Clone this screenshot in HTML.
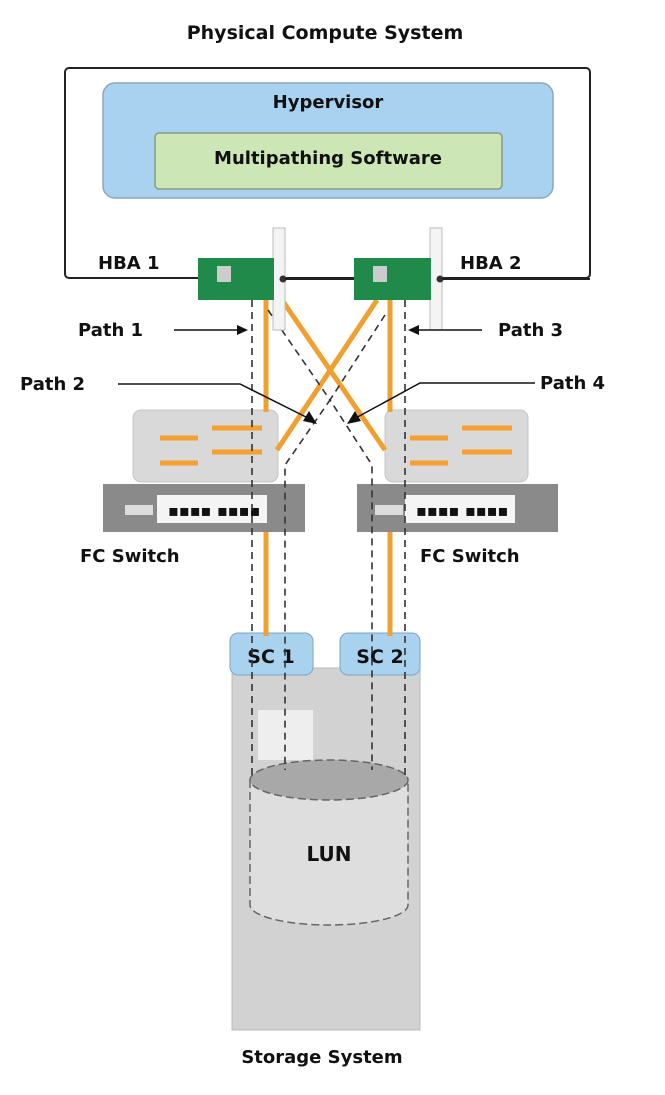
<!DOCTYPE html>
<html><head><meta charset="utf-8"><style>
html,body{margin:0;padding:0;background:#fff;}
svg{display:block;}
text{font-family:"DejaVu Sans","Liberation Sans",sans-serif;font-weight:bold;fill:#111;}
</style></head><body>
<svg width="665" height="1095" viewBox="0 0 665 1095">
<text x="325" y="39" font-size="19" text-anchor="middle">Physical Compute System</text>
<rect x="65" y="68" width="525" height="210" rx="4" fill="#fff" stroke="#222" stroke-width="2"/>
<rect x="103" y="83" width="450" height="115" rx="12" fill="#a8d2f0" stroke="#8aa7bd" stroke-width="1.5"/>
<text x="328" y="108" font-size="18" text-anchor="middle" fill="#0d2238">Hypervisor</text>
<rect x="155" y="133" width="347" height="56" rx="4" fill="#cce6b5" stroke="#8a9b80" stroke-width="1.5"/>
<text x="328" y="164" font-size="18" text-anchor="middle" fill="#102010">Multipathing Software</text>
<text x="98" y="269" font-size="18">HBA 1</text>
<text x="460" y="269" font-size="18">HBA 2</text>

<!-- switches -->
<g>
<rect x="133" y="410" width="145" height="72" rx="8" fill="#d9d9d9" stroke="#c4c4c4"/>
<g stroke="#f5a030" stroke-width="5" fill="#f5a030">
<line x1="160" y1="438" x2="198" y2="438"/><line x1="160" y1="463" x2="198" y2="463"/>
<line x1="212" y1="428" x2="262" y2="428"/><line x1="212" y1="452" x2="262" y2="452"/></g>
<rect x="103" y="484" width="202" height="48" fill="#8a8a8a"/>
<rect x="157" y="495" width="110" height="28" fill="#f4f4f4"/>
<text x="168" y="516" font-size="16" fill="#222">▪▪▪▪ ▪▪▪▪</text>
<rect x="125" y="505" width="28" height="10" fill="#ddd"/>
</g>
<g>
<rect x="385" y="410" width="143" height="72" rx="8" fill="#d9d9d9" stroke="#c4c4c4"/>
<g stroke="#f5a030" stroke-width="5">
<line x1="410" y1="438" x2="448" y2="438"/><line x1="410" y1="463" x2="448" y2="463"/>
<line x1="462" y1="428" x2="512" y2="428"/><line x1="462" y1="452" x2="512" y2="452"/></g>
<rect x="357" y="484" width="201" height="48" fill="#8a8a8a"/>
<rect x="405" y="495" width="110" height="28" fill="#f4f4f4"/>
<text x="416" y="516" font-size="16" fill="#222">▪▪▪▪ ▪▪▪▪</text>
<rect x="375" y="505" width="28" height="10" fill="#ddd"/>
</g>
<text x="80" y="562" font-size="18">FC Switch</text>
<text x="420" y="562" font-size="18">FC Switch</text>

<!-- storage -->
<rect x="232" y="668" width="188" height="362" fill="#d2d2d2" stroke="#bbb"/>
<rect x="258" y="710" width="55" height="50" fill="#eeeeee"/>
<g>
<path d="M250 780 L250 905 A79 20 0 0 0 408 905 L408 780" fill="#dedede" stroke="#666" stroke-dasharray="8 4" stroke-width="1.5"/>
<ellipse cx="329" cy="780" rx="79" ry="20" fill="#a8a8a8" stroke="#666" stroke-dasharray="8 4" stroke-width="1.5"/>
<text x="329" y="861" font-size="20" text-anchor="middle">LUN</text>
</g>
<rect x="230" y="633" width="83" height="42" rx="8" fill="#a9d2ef" stroke="#7aa6c4"/>
<text x="271" y="663" font-size="19" text-anchor="middle">SC 1</text>
<rect x="340" y="633" width="80" height="42" rx="8" fill="#a9d2ef" stroke="#7aa6c4"/>
<text x="380" y="663" font-size="19" text-anchor="middle">SC 2</text>
<text x="322" y="1063" font-size="18" text-anchor="middle">Storage System</text>

<!-- orange cables -->
<g stroke="#f0a030" stroke-width="5" fill="none">
<line x1="266" y1="300" x2="266" y2="412"/>
<line x1="390" y1="300" x2="390" y2="412"/>
<line x1="282" y1="300" x2="385" y2="450"/>
<line x1="377" y1="300" x2="277" y2="450"/>
<line x1="266" y1="532" x2="266" y2="636"/>
<line x1="390" y1="532" x2="390" y2="636"/>
</g>
<!-- dashed paths -->
<g stroke="#333" stroke-width="1.6" stroke-dasharray="7 5" fill="none">
<line x1="252" y1="300" x2="252" y2="780"/>
<polyline points="268,310 330,400 285,465 285,770"/>
<line x1="405" y1="300" x2="405" y2="780"/>
<polyline points="385,315 330,400 372,465 372,770"/>
</g>

<!-- HBA cards -->
<g>
<rect x="273" y="228" width="12" height="102" fill="#f4f4f4" stroke="#bbb"/>
<rect x="198" y="258" width="76" height="42" fill="#1f8a4a"/>
<rect x="217" y="266" width="14" height="16" fill="#ccc"/>
<circle cx="283" cy="279" r="3.5" fill="#333"/>
</g>
<g>
<rect x="430" y="228" width="12" height="102" fill="#f4f4f4" stroke="#bbb"/>
<rect x="354" y="258" width="77" height="42" fill="#1f8a4a"/>
<rect x="373" y="266" width="14" height="16" fill="#ccc"/>
<circle cx="440" cy="279" r="3.5" fill="#333"/>
</g>
<line x1="285" y1="279" x2="354" y2="279" stroke="#222" stroke-width="2"/>
<line x1="442" y1="279" x2="590" y2="279" stroke="#222" stroke-width="2"/>

<!-- path labels -->
<text x="78" y="336" font-size="18">Path 1</text>
<line x1="174" y1="330" x2="240" y2="330" stroke="#111" stroke-width="1.5"/>
<polygon points="248,330 237,325 237,335" fill="#111"/>
<text x="498" y="336" font-size="18">Path 3</text>
<line x1="482" y1="330" x2="418" y2="330" stroke="#111" stroke-width="1.5"/>
<polygon points="408,330 419,325 419,335" fill="#111"/>
<text x="20" y="390" font-size="18">Path 2</text>
<polyline points="118,384 240,384 312,420" fill="none" stroke="#111" stroke-width="1.5"/>
<polygon points="317,424 303,421 309,411" fill="#111"/>
<text x="540" y="389" font-size="18">Path 4</text>
<polyline points="535,383 420,383 352,420" fill="none" stroke="#111" stroke-width="1.5"/>
<polygon points="347,424 355,411 361,421" fill="#111"/>
</svg>
</body></html>
